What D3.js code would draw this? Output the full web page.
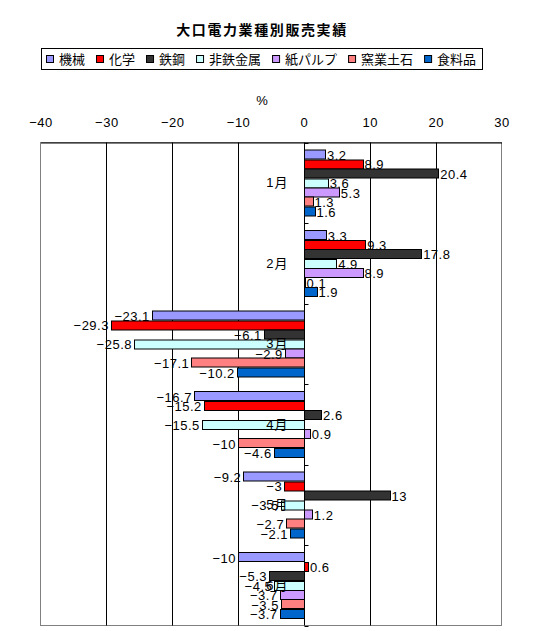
<!DOCTYPE html>
<html>
<head>
<meta charset="utf-8">
<script src="https://cdn.jsdelivr.net/npm/d3@7"></script>
<style>
  body { margin: 0; background: #fff; }
  svg text { font-family: "Liberation Sans", "Noto Sans CJK JP", sans-serif; }
</style>
</head>
<body>
<div id="chart"></div>
<script>
// data
const months = ["1月", "2月", "3月", "4月", "5月", "6月"]
const series = ["機械", "化学", "鉄鋼", "非鉄金属", "紙パルプ", "窯業土石", "食料品"]
const colors = ["#9999FF", "#FF0000", "#333333", "#CCFFFF", "#CC99FF", "#FF8080", "#0066CC"]
const kikai    = [3.2, 3.3, -23.1, -16.7, -9.2, -10]
const kagaku   = [8.9, 9.3, -29.3, -15.2, -3, 0.6]
const tekko    = [20.4, 17.8, -6.1, 2.6, 13, -5.3]
const hitetsu  = [3.6, 4.9, -25.8, -15.5, -3.5, -4.5]
const kami     = [5.3, 8.9, -2.9, 0.9, 1.2, -3.7]
const yogyo    = [1.3, 0.1, -17.1, -10, -2.7, -3.5]
const shokuryo = [1.6, 1.9, -10.2, -4.6, -2.1, -3.7]
const xTicks = [-40, -30, -20, -10, 0, 10, 20, 30]

const values = [kikai, kagaku, tekko, hitetsu, kami, yogyo, shokuryo]
const data = months.map((m, i) => ({
  month: m,
  vals: series.map((s, j) => ({ key: s, value: values[j][i], color: colors[j] }))
}))

const W = 541, H = 631
const plot = { left: 40.5, right: 501.5, top: 142.5, bottom: 625.5 }

const svg = d3.select("#chart").append("svg")
    .attr("width", W)
    .attr("height", H)

// title
svg.append("text")
    .attr("x", 262).attr("y", 35)
    .attr("text-anchor", "middle")
    .style("font-size", "14px")
    .style("font-weight", "bold")
    .style("letter-spacing", "1.6px")
    .text("大口電力業種別販売実績")

// legend
const legend = svg.append("g")
legend.append("rect")
    .attr("x", 41.5).attr("y", 48.5)
    .attr("width", 441).attr("height", 21)
    .attr("fill", "none").attr("stroke", "#000")
let lx = 46
series.forEach((s, j) => {
  legend.append("rect")
      .attr("x", lx + 0.5).attr("y", 55.5)
      .attr("width", 7).attr("height", 7)
      .attr("fill", colors[j]).attr("stroke", "#000")
  const t = legend.append("text")
      .attr("x", lx + 13).attr("y", 59)
      .attr("dy", "0.38em")
      .style("font-size", "13px")
      .text(s)
  lx += 13 + t.node().getComputedTextLength() + 11
})

// scales
const x = d3.scaleLinear().domain([-40, 30]).range([plot.left, plot.right])
const y = d3.scaleBand().domain(months).range([plot.top, plot.bottom])
const yInner = d3.scaleBand().domain(series).range([0, y.bandwidth()])
    .paddingInner(0).paddingOuter(0.75)

// "%" unit label
svg.append("text")
    .attr("x", 262).attr("y", 100)
    .attr("dy", "0.36em")
    .attr("text-anchor", "middle")
    .style("font-size", "13px")
    .text("%")

// plot border
svg.append("rect")
    .attr("x", plot.left).attr("y", plot.top)
    .attr("width", plot.right - plot.left).attr("height", plot.bottom - plot.top)
    .attr("fill", "none").attr("stroke", "#808080")

// gridlines
svg.append("g").selectAll("line")
  .data(xTicks.filter(d => d > -40 && d < 30 && d !== 0))
  .join("line")
    .attr("x1", d => Math.round(x(d)) + 0.5).attr("x2", d => Math.round(x(d)) + 0.5)
    .attr("y1", plot.top).attr("y2", plot.bottom)
    .attr("stroke", "#000")

// top value axis
const xAx = d3.axisTop(x).tickValues(xTicks).tickSize(0).tickSizeOuter(0).tickPadding(16)
const xGroup = svg.append("g")
    .attr("transform", `translate(0,${plot.top})`)
    .call(xAx)
xGroup.select(".domain").attr("stroke", "#000")
xGroup.selectAll("text")
    .style("font-size", "13px")
    .style("letter-spacing", "0.5px")
    .attr("font-family", null)

// bars
const groups = svg.append("g").selectAll("g")
  .data(data)
  .join("g")
    .attr("transform", d => `translate(0,${y(d.month)})`)

groups.selectAll("rect")
  .data(d => d.vals)
  .join("rect")
    .attr("x", d => Math.round(x(Math.min(0, d.value))) + 0.5)
    .attr("y", d => Math.round(yInner(d.key)) + 0.5)
    .attr("width", d => Math.max(1, Math.round(Math.abs(x(d.value) - x(0)))))
    .attr("height", Math.round(yInner.bandwidth()))
    .attr("fill", d => d.color)
    .attr("stroke", "#000")

// category axis at 0
const axisX = Math.round(x(0)) + 0.5
svg.append("g").selectAll("line")
  .data(d3.range(months.length + 1))
  .join("line")
    .attr("x1", axisX).attr("x2", axisX + 4)
    .attr("y1", i => Math.round(plot.top + i * y.step()) + 0.5)
    .attr("y2", i => Math.round(plot.top + i * y.step()) + 0.5)
    .attr("stroke", "#000")
svg.append("line")
    .attr("x1", axisX).attr("x2", axisX)
    .attr("y1", plot.top).attr("y2", plot.bottom)
    .attr("stroke", "#000")

// category labels
svg.append("g").selectAll("text")
  .data(months)
  .join("text")
    .attr("x", axisX - 16)
    .attr("y", d => y(d) + y.bandwidth() / 2)
    .attr("dy", "0.36em")
    .attr("text-anchor", "end")
    .style("font-size", "13px")
    .style("letter-spacing", "1px")
    .text(d => d)

// data labels
const fmt = d3.format("")
groups.selectAll("text")
  .data(d => d.vals)
  .join("text")
    .attr("x", d => d.value >= 0 ? x(d.value) + 2 : x(d.value) - 2)
    .attr("y", d => yInner(d.key) + yInner.bandwidth() / 2 + 1)
    .attr("dy", "0.36em")
    .attr("text-anchor", d => d.value >= 0 ? "start" : "end")
    .style("font-size", "13px")
    .style("letter-spacing", "0.5px")
    .text(d => fmt(d.value))
</script>
</body>
</html>
